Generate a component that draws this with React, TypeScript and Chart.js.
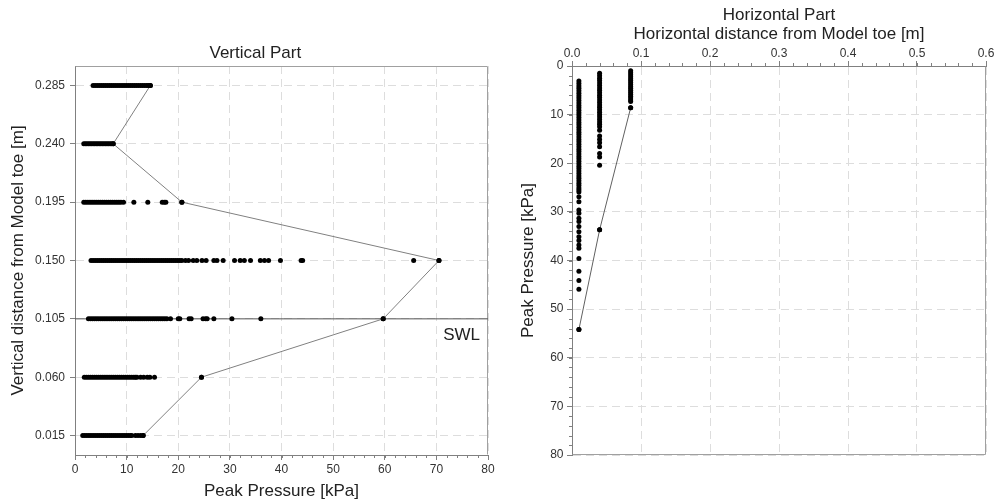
import React, { useEffect, useRef } from 'react';
import Chart from 'chart.js/auto';

// ---------- Vertical part data ----------
const V_LEVELS = [0.015, 0.06, 0.105, 0.15, 0.195, 0.24, 0.285];
const V_P015 = [1.5, 1.9, 2.3, 2.7, 3.1, 3.5, 3.9, 4.3, 4.7, 5.1, 5.5, 5.9, 6.3, 6.7, 7.1, 7.5, 7.9, 8.3, 8.7, 9.1, 9.5, 9.9, 10.3, 10.7, 11.0, 11.7, 12.2, 12.7, 13.2];
const V_P060 = [1.8, 2.2, 2.6, 3.0, 3.4, 3.8, 4.2, 4.6, 5.0, 5.4, 5.8, 6.2, 6.6, 7.0, 7.4, 7.8, 8.2, 8.6, 9.0, 9.4, 9.8, 10.2, 10.6, 11.0, 11.4, 11.7, 12.0, 12.7, 13.3, 14.0, 14.5, 15.4, 24.5];
const V_P105 = [2.6, 3.0, 3.4, 3.8, 4.2, 4.6, 5.0, 5.4, 5.8, 6.2, 6.6, 7.0, 7.4, 7.8, 8.2, 8.6, 9.0, 9.4, 9.8, 10.2, 10.6, 11.0, 11.4, 11.8, 12.2, 12.6, 13.0, 13.4, 13.8, 14.2, 14.6, 15.0, 15.4, 15.8, 16.2, 16.6, 17.0, 17.4, 17.8, 18.5, 20.0, 20.3, 22.1, 22.5, 24.8, 25.3, 25.6, 26.9, 30.4, 36.0, 59.7];
const V_P150 = [3.1, 3.5, 3.9, 4.3, 4.7, 5.1, 5.5, 5.9, 6.3, 6.7, 7.1, 7.5, 7.9, 8.3, 8.7, 9.1, 9.5, 9.9, 10.3, 10.7, 11.1, 11.5, 11.9, 12.3, 12.7, 13.1, 13.5, 13.9, 14.3, 14.7, 15.1, 15.5, 15.9, 16.3, 16.7, 17.1, 17.5, 17.9, 18.3, 18.7, 19.1, 19.5, 19.9, 20.3, 20.7, 21.4, 22.0, 22.9, 23.6, 24.6, 25.4, 26.9, 27.5, 28.7, 30.9, 32.0, 32.8, 34.0, 35.9, 36.7, 37.5, 39.8, 43.8, 44.1, 65.6, 70.5];
const V_P195 = [1.7, 2.1, 2.5, 2.9, 3.3, 3.7, 4.1, 4.5, 4.9, 5.3, 5.7, 6.1, 6.5, 6.9, 7.3, 7.7, 8.1, 8.5, 8.9, 9.4, 11.4, 14.1, 16.9, 17.3, 17.6, 20.7];
const V_P240 = [1.7, 2.0, 2.3, 2.6, 2.9, 3.2, 3.5, 3.8, 4.1, 4.4, 4.7, 5.0, 5.3, 5.6, 5.9, 6.2, 6.5, 6.8, 7.1, 7.4];
const V_P285 = [3.5, 3.9, 4.3, 4.7, 5.1, 5.5, 5.9, 6.3, 6.7, 7.1, 7.5, 7.9, 8.3, 8.7, 9.1, 9.5, 9.9, 10.3, 10.7, 11.1, 11.5, 11.9, 12.3, 12.7, 13.1, 13.5, 13.9, 14.2, 14.6];
const V_PRESSURES = [V_P015, V_P060, V_P105, V_P150, V_P195, V_P240, V_P285];
const V_Y_TICKS = [0.015, 0.06, 0.105, 0.15, 0.195, 0.24, 0.285];
const V_X_RANGE = [0, 80];
const V_Y_RANGE = [0, 0.3];
const SWL_LEVEL = 0.105;

// ---------- Horizontal part data ----------
const H_X = [0.01, 0.04, 0.085];
const H_P010 = [3.1, 3.6, 4.1, 4.6, 5.1, 5.6, 6.1, 6.6, 7.1, 7.6, 8.1, 8.6, 9.1, 9.6, 10.1, 10.6, 11.1, 11.6, 12.1, 12.6, 13.1, 13.6, 14.1, 14.6, 15.1, 15.6, 16.1, 16.6, 17.1, 17.6, 18.1, 18.6, 19.1, 19.6, 20.1, 20.6, 21.1, 21.6, 22.1, 22.6, 23.1, 23.6, 24.1, 24.6, 25.1, 25.5, 25.9, 26.9, 27.9, 29.6, 30.3, 31.3, 32.0, 33.0, 34.1, 35.1, 35.9, 36.8, 37.5, 39.6, 42.2, 44.1, 45.9, 54.2];
const H_P040 = [1.5, 2.0, 2.5, 3.0, 3.5, 4.0, 4.5, 5.0, 5.5, 6.0, 6.5, 7.0, 7.5, 8.0, 8.5, 9.0, 9.5, 10.0, 10.5, 11.0, 11.5, 12.0, 12.5, 13.2, 14.4, 15.1, 15.8, 16.6, 18.0, 18.7, 20.4, 33.7];
const H_P085 = [1.0, 1.4, 1.8, 2.2, 2.6, 3.0, 3.4, 3.8, 4.2, 4.6, 5.0, 5.4, 5.8, 6.2, 6.6, 7.0, 7.3, 8.6];
const H_PRESSURES = [H_P010, H_P040, H_P085];
const H_X_RANGE = [0, 0.6];
const H_Y_RANGE = [0, 80];

const FONT = "'Liberation Sans', Arial, Helvetica, sans-serif";
const TEXT = '#333333';
const TITLE = '#222222';
const AXIS = '#808080';
const FRAME = '#a0a0a0';
const GRID = '#dddddd';
const DASH = [8, 5];

function framePlugin(sides: string[]) {
  return {
    id: 'frame' + sides.join(''),
    beforeDatasetsDraw(chart: any) {
      const { ctx, chartArea: a } = chart;
      const l = Math.round(a.left) + 0.5, r = Math.round(a.right) - 0.5;
      const t = Math.round(a.top) + 0.5, b = Math.round(a.bottom) - 0.5;
      ctx.save();
      ctx.strokeStyle = FRAME;
      ctx.lineWidth = 1;
      ctx.beginPath();
      if (sides.includes('top')) { ctx.moveTo(l, t); ctx.lineTo(r, t); }
      if (sides.includes('right')) { ctx.moveTo(r, t); ctx.lineTo(r, b); }
      if (sides.includes('bottom')) { ctx.moveTo(l, b); ctx.lineTo(r, b); }
      ctx.stroke();
      ctx.restore();
    },
  };
}

function minorPlugin(list: { axis: string; step: number; len: number }[]) {
  return {
    id: 'minor',
    afterDraw(chart: any) {
      const { ctx } = chart;
      ctx.save();
      ctx.strokeStyle = AXIS;
      ctx.lineWidth = 1;
      ctx.beginPath();
      list.forEach(({ axis, step, len }) => {
        const s = chart.scales[axis];
        const n = Math.round((s.max - s.min) / step);
        for (let i = 0; i <= n; i++) {
          const v = s.min + i * step;
          const p = Math.round(s.getPixelForValue(v)) + 0.5;
          if (s.isHorizontal()) {
            if (s.position === 'top') { ctx.moveTo(p, s.bottom); ctx.lineTo(p, s.bottom - len); }
            else { ctx.moveTo(p, s.top); ctx.lineTo(p, s.top + len); }
          } else {
            ctx.moveTo(s.right, p); ctx.lineTo(s.right - len, p);
          }
        }
      });
      ctx.stroke();
      ctx.restore();
    },
  };
}

const swlLabelPlugin = {
  id: 'swlLabel',
  afterDatasetsDraw(chart: any) {
    const { ctx, chartArea } = chart;
    const y = chart.scales.y.getPixelForValue(SWL_LEVEL);
    ctx.save();
    ctx.fillStyle = TITLE;
    ctx.font = `17px ${FONT}`;
    ctx.textAlign = 'right';
    ctx.textBaseline = 'middle';
    ctx.fillText('SWL', chartArea.right - 8, y + 16.5);
    ctx.restore();
  },
};

function leftConfig(): any {
  const points: { x: number; y: number }[] = [];
  V_LEVELS.forEach((lv, i) => V_PRESSURES[i].forEach((p) => points.push({ x: p, y: lv })));
  const maxLine = V_LEVELS.map((lv, i) => ({ x: Math.max(...V_PRESSURES[i]), y: lv })).reverse();
  return {
    type: 'scatter',
    data: {
      datasets: [
        { data: points, pointRadius: 2.5, pointBackgroundColor: '#000', pointBorderWidth: 0, order: 1 },
        { data: maxLine, showLine: true, borderColor: '#808080', borderWidth: 1, pointRadius: 2.5, pointBackgroundColor: '#000', pointBorderWidth: 0, order: 2 },
        { data: [{ x: V_X_RANGE[0], y: SWL_LEVEL }, { x: V_X_RANGE[1], y: SWL_LEVEL }], showLine: true, borderColor: '#555', borderWidth: 1, pointRadius: 0, order: 3 },
      ],
    },
    options: {
      responsive: false,
      animation: false,
      events: [],
      layout: { padding: { left: 22.6, right: 12, top: 0, bottom: 0 } },
      plugins: {
        legend: { display: false },
        tooltip: { enabled: false },
        title: { display: true, text: 'Vertical Part', color: TITLE, font: { size: 17, weight: 'normal', family: FONT, lineHeight: 1 }, padding: { top: 44.4, bottom: 4.6 } },
      },
      scales: {
        x: {
          type: 'linear', position: 'bottom', min: V_X_RANGE[0], max: V_X_RANGE[1],
          ticks: { stepSize: 10, color: TEXT, font: { size: 12, family: FONT }, padding: 2.5, maxRotation: 0 },
          grid: { color: GRID, tickColor: AXIS, tickLength: 5 },
          border: { color: AXIS, dash: DASH },
          title: { display: true, text: 'Peak Pressure [kPa]', color: TITLE, font: { size: 17, family: FONT, lineHeight: 1 }, padding: { top: 0, bottom: 3.2 } },
          afterFit: (s: any) => { s.height = 48; },
        },
        y: {
          type: 'linear', position: 'left', min: V_Y_RANGE[0], max: V_Y_RANGE[1],
          afterBuildTicks: (s: any) => { s.ticks = V_Y_TICKS.map((v) => ({ value: v })); },
          ticks: { color: TEXT, font: { size: 12, family: FONT }, padding: 5, callback: (v: any) => Number(v).toFixed(3) },
          grid: { color: GRID, tickColor: AXIS, tickLength: 5 },
          border: { color: AXIS, dash: DASH },
          title: { display: true, text: 'Vertical distance from Model toe [m]', color: TITLE, font: { size: 17, family: FONT, lineHeight: 1 }, padding: { top: -12.8, bottom: 0 } },
          afterFit: (s: any) => { s.width = 52.4; },
        },
      },
    },
    plugins: [framePlugin(['top', 'right']), minorPlugin([{ axis: 'x', step: 2, len: 3 }]), swlLabelPlugin],
  };
}

function rightConfig(): any {
  const points: { x: number; y: number }[] = [];
  H_X.forEach((hx, i) => H_PRESSURES[i].forEach((p) => points.push({ x: hx, y: p })));
  const maxLine = H_X.map((hx, i) => ({ x: hx, y: Math.max(...H_PRESSURES[i]) })).reverse();
  return {
    type: 'scatter',
    data: {
      datasets: [
        { data: points, pointRadius: 2.5, pointBackgroundColor: '#000', pointBorderWidth: 0, order: 1 },
        { data: maxLine, showLine: true, borderColor: '#606060', borderWidth: 1, pointRadius: 2.5, pointBackgroundColor: '#000', pointBorderWidth: 0, order: 2 },
      ],
    },
    options: {
      responsive: false,
      animation: false,
      events: [],
      layout: { padding: { left: 0, right: 9, top: 0, bottom: 48 } },
      plugins: {
        legend: { display: false },
        tooltip: { enabled: false },
        title: { display: true, fullSize: false, text: 'Horizontal Part', color: TITLE, font: { size: 17, weight: 'normal', family: FONT, lineHeight: 1 }, padding: { top: 7.2, bottom: 0 } },
      },
      scales: {
        x: {
          type: 'linear', position: 'top', min: H_X_RANGE[0], max: H_X_RANGE[1],
          ticks: { stepSize: 0.1, color: TEXT, font: { size: 12, family: FONT }, padding: 0, maxRotation: 0, callback: (v: any) => Number(v).toFixed(1) },
          grid: { color: GRID, tickColor: AXIS, tickLength: 5 },
          border: { color: AXIS, dash: DASH },
          title: { display: true, text: 'Horizontal distance from Model toe [m]', color: TITLE, font: { size: 17, family: FONT, lineHeight: 1 }, padding: { top: 2, bottom: 0 } },
          afterFit: (s: any) => { s.height = 41.8; },
        },
        y: {
          type: 'linear', position: 'left', min: H_Y_RANGE[0], max: H_Y_RANGE[1], reverse: true,
          ticks: { stepSize: 10, color: TEXT, font: { size: 12, family: FONT }, padding: 3.5 },
          grid: { color: GRID, tickColor: AXIS, tickLength: 5 },
          border: { color: AXIS, dash: DASH },
          title: { display: true, text: 'Peak Pressure [kPa]', color: TITLE, font: { size: 17, family: FONT, lineHeight: 1 }, padding: { top: 19.8, bottom: 0 } },
          afterFit: (s: any) => { s.width = 72; },
        },
      },
    },
    plugins: [framePlugin(['bottom', 'right']), minorPlugin([{ axis: 'x', step: 0.02, len: 3 }, { axis: 'y', step: 2, len: 3 }])],
  };
}

export default function App() {
  const leftRef = useRef<HTMLCanvasElement>(null);
  const rightRef = useRef<HTMLCanvasElement>(null);
  useEffect(() => {
    const c1 = new Chart(leftRef.current as HTMLCanvasElement, leftConfig());
    const c2 = new Chart(rightRef.current as HTMLCanvasElement, rightConfig());
    return () => { c1.destroy(); c2.destroy(); };
  }, []);
  return (
    <div style={{ position: 'absolute', left: 0, top: 0, width: 995, height: 503, background: '#fff' }}>
      <canvas ref={leftRef} width={500} height={503} style={{ position: 'absolute', left: 0, top: 0, width: 500, height: 503 }} />
      <canvas ref={rightRef} width={495} height={503} style={{ position: 'absolute', left: 500, top: 0, width: 495, height: 503 }} />
    </div>
  );
}
